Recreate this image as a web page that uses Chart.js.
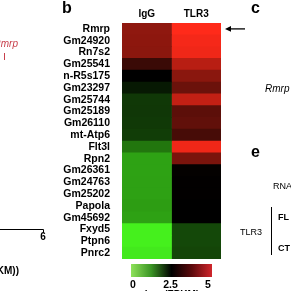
<!DOCTYPE html>
<html>
<head>
<meta charset="utf-8">
<script src="https://cdn.jsdelivr.net/npm/chart.js@4/dist/chart.umd.min.js"></script>
<style>
  html, body { margin: 0; padding: 0; background: #fff; }
  #wrap { width: 291px; height: 291px; }
</style>
</head>
<body>
<div id="wrap"><canvas id="heat" width="291" height="291"></canvas></div>
<script>
// ── Data (log2 FPKM) ───────────────────────────────────────────────
const genes = ["Rmrp", "Gm24920", "Rn7s2", "Gm25541", "n-R5s175", "Gm23297",
  "Gm25744", "Gm25189", "Gm26110", "mt-Atp6", "Flt3l", "Rpn2", "Gm26361",
  "Gm24763", "Gm25202", "Papola", "Gm45692", "Fxyd5", "Ptpn6", "Pnrc2"];
const columns = ["IgG", "TLR3"];
const iggValues  = [3.90, 3.88, 3.86, 3.07, 2.50, 2.25, 1.93, 1.94, 1.92, 1.88,
  1.30, 0.85, 0.85, 0.86, 0.86, 0.90, 0.86, 0.05, 0.05, 0.12];
const tlr3Values = [5.00, 4.90, 4.85, 4.30, 3.85, 3.55, 4.40, 3.40, 3.45, 3.20,
  4.85, 3.70, 2.54, 2.52, 2.52, 2.50, 2.50, 1.77, 1.77, 1.80];
const scaleTicks = [0, 2.5, 5];
const scaleTitle = "log\u2082(FPKM)";

// ── Colour map: green -> black -> red ──────────────────────────────
const LOW = [70, 245, 30];
const HIGH = [255, 42, 26];
function heatColor(v) {
  const mid = 2.5;
  let c, f;
  if (v <= mid) { c = LOW; f = (mid - v) / mid; }
  else { c = HIGH; f = (v - mid) / (5 - mid); }
  f = Math.max(0, Math.min(1, f));
  return "rgb(" + Math.round(c[0] * f) + "," + Math.round(c[1] * f) + "," + Math.round(c[2] * f) + ")";
}

const FONT = "'Liberation Sans', Arial, sans-serif";

// ── Extra drawing: column headers, arrow, colour scale, panel fragments ──
const decor = {
  id: "decor",
  afterDraw(chart) {
    const ctx = chart.ctx;
    const xs = chart.scales.x;
    const ys = chart.scales.y;
    ctx.save();
    ctx.fillStyle = "#000";

    // column headers
    ctx.font = "bold 10px " + FONT;
    ctx.textAlign = "center";
    ctx.textBaseline = "alphabetic";
    columns.forEach(function (name, i) {
      ctx.fillText(name, xs.getPixelForValue(i + 0.5), 17);
    });

    // arrow pointing at first row
    const ay = ys.getPixelForValue(0);
    ctx.strokeStyle = "#000";
    ctx.lineWidth = 1.3;
    ctx.beginPath();
    ctx.moveTo(245, ay);
    ctx.lineTo(229, ay);
    ctx.stroke();
    ctx.beginPath();
    ctx.moveTo(225, ay);
    ctx.lineTo(231, ay - 2.8);
    ctx.lineTo(231, ay + 2.8);
    ctx.closePath();
    ctx.fill();

    // colour scale bar
    const bx0 = 131, bx1 = 212, by0 = 264, by1 = 277;
    const g = ctx.createLinearGradient(bx0, 0, bx1, 0);
    g.addColorStop(0, "#8ee25a");
    g.addColorStop(0.25, "#3a9424");
    g.addColorStop(0.5, "#000000");
    g.addColorStop(0.75, "#5c0a0c");
    g.addColorStop(1, "#d0262c");
    ctx.fillStyle = g;
    ctx.fillRect(bx0, by0, bx1 - bx0, by1 - by0);
    ctx.fillStyle = "#000";
    ctx.font = "bold 10.5px " + FONT;
    ctx.textAlign = "center";
    scaleTicks.forEach(function (t) {
      const x = 133 + (t / 5) * (208 - 133);
      ctx.fillText(String(t), x, 288);
    });
    ctx.font = "bold 10px " + FONT;
    ctx.fillText(scaleTitle, 172, 298);

    // panel letters
    ctx.font = "bold 16px " + FONT;
    ctx.textAlign = "left";
    ctx.fillText("b", 62, 13);
    ctx.fillText("c", 251, 13);
    ctx.fillText("e", 251, 157);

    // right panel fragments
    ctx.font = "italic 10px " + FONT;
    ctx.fillText("Rmrp", 265, 92);
    ctx.font = "9px " + FONT;
    ctx.fillText("RNA", 273, 189);
    ctx.fillText("TLR3", 240, 235);
    ctx.font = "bold 9px " + FONT;
    ctx.fillText("FL", 278, 220);
    ctx.fillText("CT", 278, 251);
    ctx.lineWidth = 1;
    ctx.beginPath();
    ctx.moveTo(271.5, 207);
    ctx.lineTo(271.5, 255);
    ctx.stroke();

    // left panel fragments
    ctx.fillStyle = "#c8404c";
    ctx.strokeStyle = "#c8404c";
    ctx.font = "italic 10px " + FONT;
    ctx.textAlign = "right";
    ctx.fillText("Rmrp", 18, 47);
    ctx.beginPath();
    ctx.moveTo(4.5, 53);
    ctx.lineTo(4.5, 60);
    ctx.stroke();
    ctx.strokeStyle = "#000";
    ctx.fillStyle = "#000";
    ctx.beginPath();
    ctx.moveTo(0, 229.5);
    ctx.lineTo(43.5, 229.5);
    ctx.lineTo(43.5, 233);
    ctx.stroke();
    ctx.font = "bold 10px " + FONT;
    ctx.textAlign = "center";
    ctx.fillText("6", 43, 240);
    ctx.textAlign = "right";
    ctx.fillText("(FPKM))", 19, 274);

    ctx.restore();
  }
};

// ── Heatmap as two stacked horizontal bars per gene ────────────────
new Chart(document.getElementById("heat").getContext("2d"), {
  type: "bar",
  data: {
    labels: genes,
    datasets: [
      { label: columns[0], data: genes.map(function () { return 1; }),
        backgroundColor: iggValues.map(heatColor) },
      { label: columns[1], data: genes.map(function () { return 1; }),
        backgroundColor: tlr3Values.map(heatColor) }
    ]
  },
  options: {
    indexAxis: "y",
    responsive: false,
    animation: false,
    devicePixelRatio: 1,
    layout: { padding: { top: 23, right: 70, bottom: 32, left: 0 } },
    datasets: { bar: { barPercentage: 1, categoryPercentage: 1, borderWidth: 0 } },
    plugins: { legend: { display: false }, tooltip: { enabled: false } },
    scales: {
      x: { stacked: true, min: 0, max: 2, display: false },
      y: {
        stacked: true,
        grid: { display: false },
        border: { display: false },
        ticks: { color: "#000", padding: 4, autoSkip: false,
                 font: { family: FONT, size: 10.5, weight: "bold" } },
        afterFit: function (scale) { scale.width = 122; }
      }
    }
  },
  plugins: [decor]
});
</script>
</body>
</html>
